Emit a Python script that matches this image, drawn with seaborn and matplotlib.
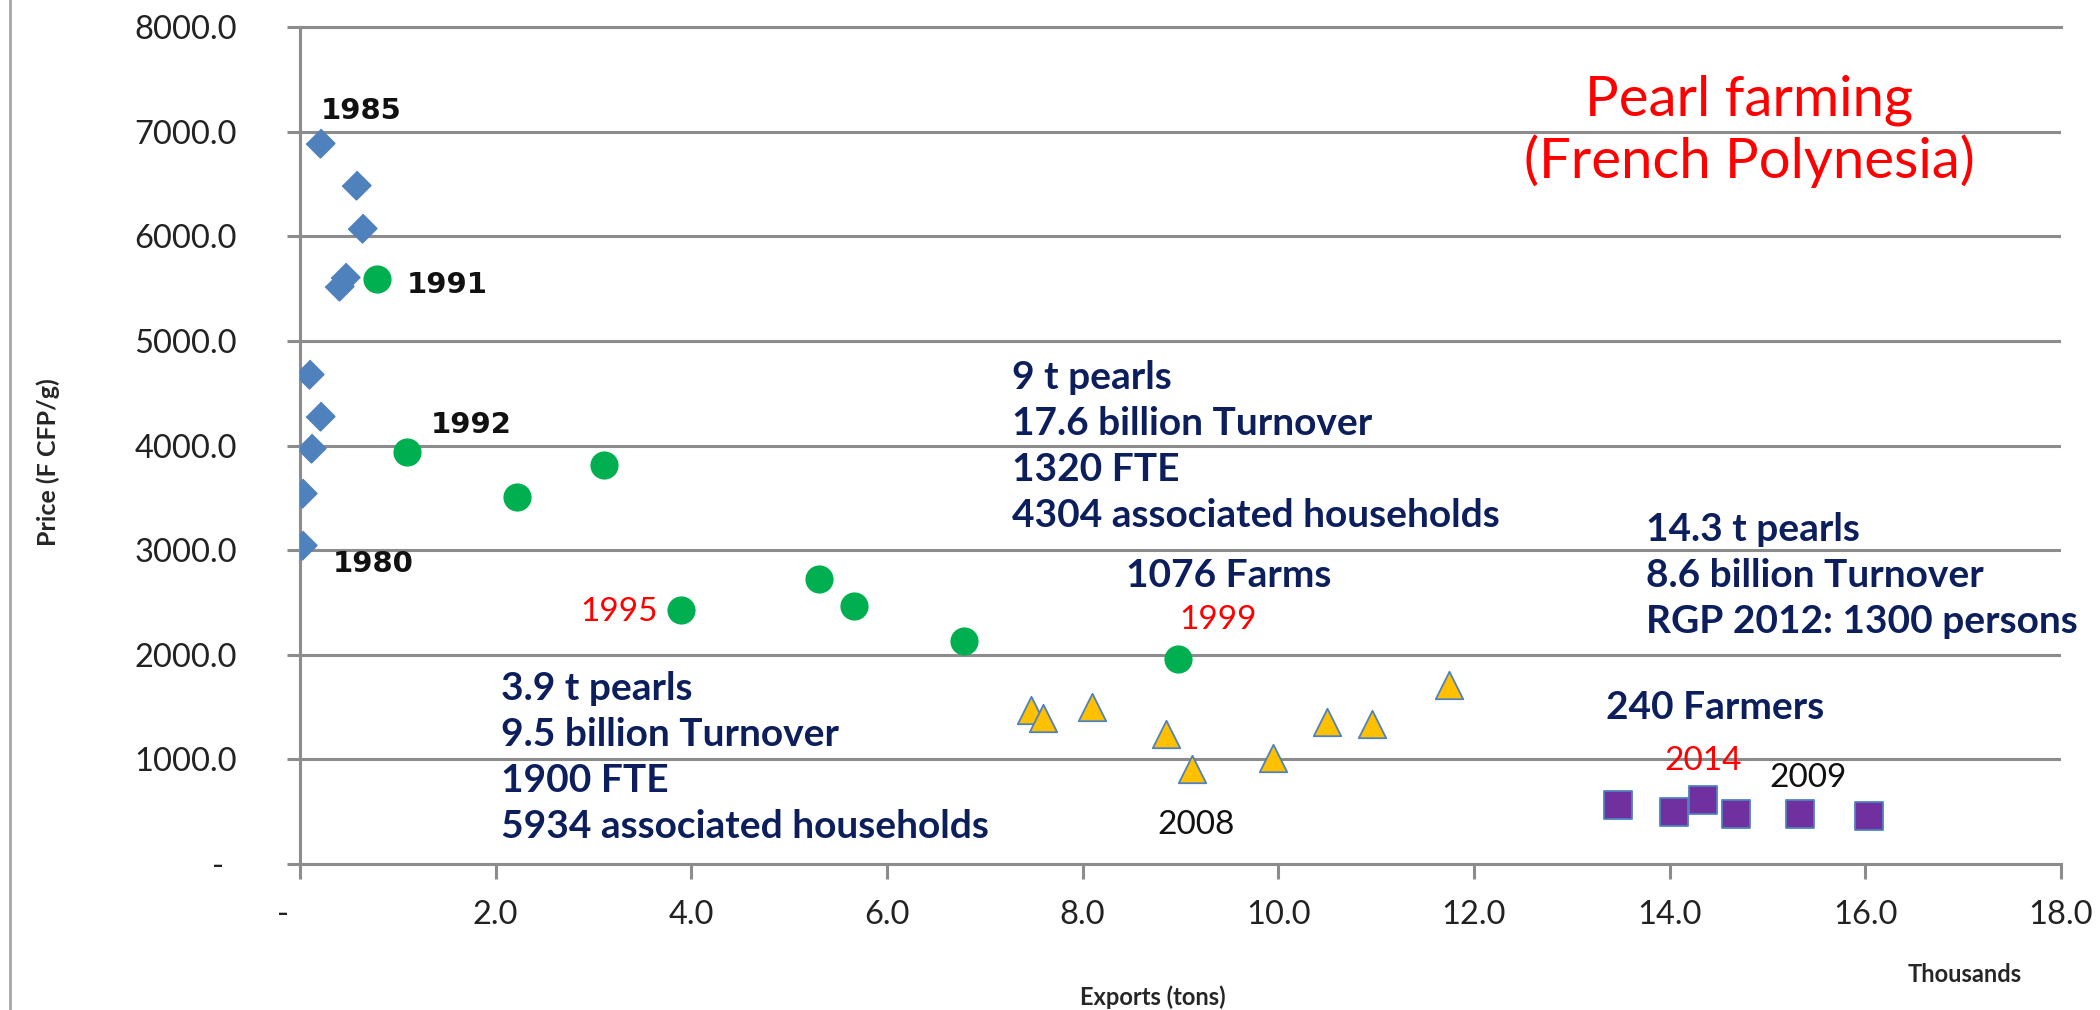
import matplotlib
matplotlib.use("Agg")
import matplotlib.pyplot as plt
import matplotlib.transforms as mtransforms
from matplotlib.lines import Line2D
import pandas as pd
import seaborn as sns

# Exports (thousand tons) and price (F CFP per gram), grouped by period
early_exports = [0.20, 0.57, 0.63, 0.46, 0.40, 0.09, 0.20, 0.11, 0.02, 0.02]
early_prices = [6892, 6487, 6080, 5606, 5522, 4683, 4286, 3979, 3542, 3048]

boom_exports = [0.79, 1.09, 2.22, 3.11, 3.89, 5.30, 5.66, 6.79, 8.97]
boom_prices = [5590, 3935, 3512, 3809, 2430, 2722, 2470, 2130, 1960]

decline_exports = [7.47, 7.59, 8.10, 8.85, 9.12, 9.95, 10.50, 10.96, 11.74]
decline_prices = [1473, 1395, 1505, 1241, 907, 1013, 1360, 1334, 1711]

recent_exports = [13.47, 14.04, 14.34, 14.68, 15.33, 16.04]
recent_prices = [562, 496, 608, 480, 480, 455]

x_ticks = [0, 2, 4, 6, 8, 10, 12, 14, 16, 18]
x_tick_labels = ["-", "2.0", "4.0", "6.0", "8.0", "10.0", "12.0", "14.0", "16.0", "18.0"]
y_ticks = [0, 1000, 2000, 3000, 4000, 5000, 6000, 7000, 8000]
y_tick_labels = ["-", "1000.0", "2000.0", "3000.0", "4000.0",
                 "5000.0", "6000.0", "7000.0", "8000.0"]

title_lines = ["Pearl farming", "(French Polynesia)"]
block_1995 = ["3.9 t pearls", "9.5 billion Turnover", "1900 FTE",
              "5934 associated households"]
block_2000 = ["9 t pearls", "17.6 billion Turnover", "1320 FTE",
              "4304 associated households"]
block_2012 = ["14.3 t pearls", "8.6 billion Turnover", "RGP 2012: 1300 persons"]

GRID = "#8c8c8c"
NAVY = "#0c1f5c"
RED = "#ff0000"

sns.set_style("white")
plt.rcParams["font.family"] = ["Lato", "DejaVu Sans"]

fig = plt.figure(figsize=(21, 10.1), dpi=100)
ax = fig.add_axes([300 / 2100, 1 - 864 / 1010, 1761 / 2100, 837 / 1010])

series = [
    (early_exports, early_prices, [(0, 1), (1, 0), (0, -1), (-1, 0)], "#4f81bd", "#4f81bd", 420),
    (boom_exports, boom_prices, "o", "#00b050", "#00b050", 360),
    (decline_exports, decline_prices, "^", "#ffc000", "#4f81bd", 390),
    (recent_exports, recent_prices, "s", "#7030a0", "#4f81bd", 410),
]
for xs, ys, mk, fc, ec, size in series:
    df = pd.DataFrame({"exports": xs, "price": ys})
    sns.scatterplot(data=df, x="exports", y="price", marker=mk, color=fc,
                    edgecolor=ec, linewidth=1.3, s=size, ax=ax, zorder=3,
                    legend=False)

ax.set_xlim(0, 18)
ax.set_ylim(0, 8000)
ax.set_xlabel("")
ax.set_ylabel("")
ax.set_xticks(x_ticks)
ax.set_xticklabels(x_tick_labels)
ax.set_yticks(y_ticks)
ax.set_yticklabels(y_tick_labels)

ax.set_axisbelow(True)
ax.yaxis.grid(True, color=GRID, linewidth=2.2)
ax.xaxis.grid(False)
for side in ["left", "bottom", "top"]:
    ax.spines[side].set_visible(True)
    ax.spines[side].set_color(GRID)
    ax.spines[side].set_linewidth(2.2)
ax.spines["right"].set_visible(False)

ax.tick_params(axis="y", direction="out", length=9.5, width=2.2, color=GRID,
               pad=36, labelsize=23.5, labelcolor="#222222", left=True)
ax.tick_params(axis="x", direction="out", length=11, width=2.2, color=GRID,
               pad=15, labelsize=23.5, labelcolor="#222222", bottom=True)

# the zero labels sit a little left, like an accounting number format
dash_x = ax.xaxis.get_major_ticks()[0].label1
dash_x.set_transform(dash_x.get_transform() +
                     mtransforms.ScaledTranslation(-0.17, 0, fig.dpi_scale_trans))
dash_y = ax.yaxis.get_major_ticks()[0].label1
dash_y.set_transform(dash_y.get_transform() +
                     mtransforms.ScaledTranslation(-0.13, 0, fig.dpi_scale_trans))

# title
for i, line in enumerate(title_lines):
    ax.text(14.81, 7150 - i * 592, line, color=RED, fontsize=40.5,
            ha="center", va="baseline", family="Lato")

# summary blocks
def block(lines, x, y0, step=440):
    for i, line in enumerate(lines):
        ax.text(x, y0 - i * step, line, color=NAVY, fontsize=28,
                fontweight="bold", ha="left", va="baseline", family="Lato")

block(block_1995, 2.05, 1567)
block(block_2000, 7.28, 4540)
block(block_2012, 13.76, 3087)
block(["1076 Farms"], 8.44, 2648)
block(["240 Farmers"], 13.35, 1386)

# year markers
bold_years = [("1985", 0.62, 7121, "center"), ("1991", 1.09, 5458, "left"),
              ("1992", 1.75, 4115, "center"), ("1980", 0.75, 2791, "center")]
for txt, x, y, ha in bold_years:
    ax.text(x, y, txt, color="#111111", fontsize=21, fontweight="bold",
            ha=ha, va="baseline", family="DejaVu Sans")

plain_years = [("1995", 3.66, 2323, "right", RED), ("1999", 9.38, 2246, "center", RED),
               ("2008", 9.16, 287, "center", "#111111"), ("2014", 14.34, 898, "center", RED),
               ("2009", 15.41, 736, "center", "#111111")]
for txt, x, y, ha, col in plain_years:
    ax.text(x, y, txt, color=col, fontsize=24, ha=ha, va="baseline",
            family="Lato")

# axis titles
fig.text(48 / 2100, 1 - 462 / 1010, "Price (F CFP/g)", rotation=90,
         ha="center", va="center", fontsize=18, fontweight="bold", family="Lato")
fig.text(1153 / 2100, 1 - 997 / 1010, "Exports (tons)", ha="center", va="center",
         fontsize=17, fontweight="bold", family="Lato")
fig.text(1965 / 2100, 1 - 974 / 1010, "Thousands", ha="center", va="center",
         fontsize=17, fontweight="bold", family="Lato")

# chart frame edge on the left
fig.add_artist(Line2D([10 / 2100, 10 / 2100], [0, 1], transform=fig.transFigure,
                      color="#a6a6a6", linewidth=2))

fig.savefig("out.png", dpi=100, facecolor="white")
